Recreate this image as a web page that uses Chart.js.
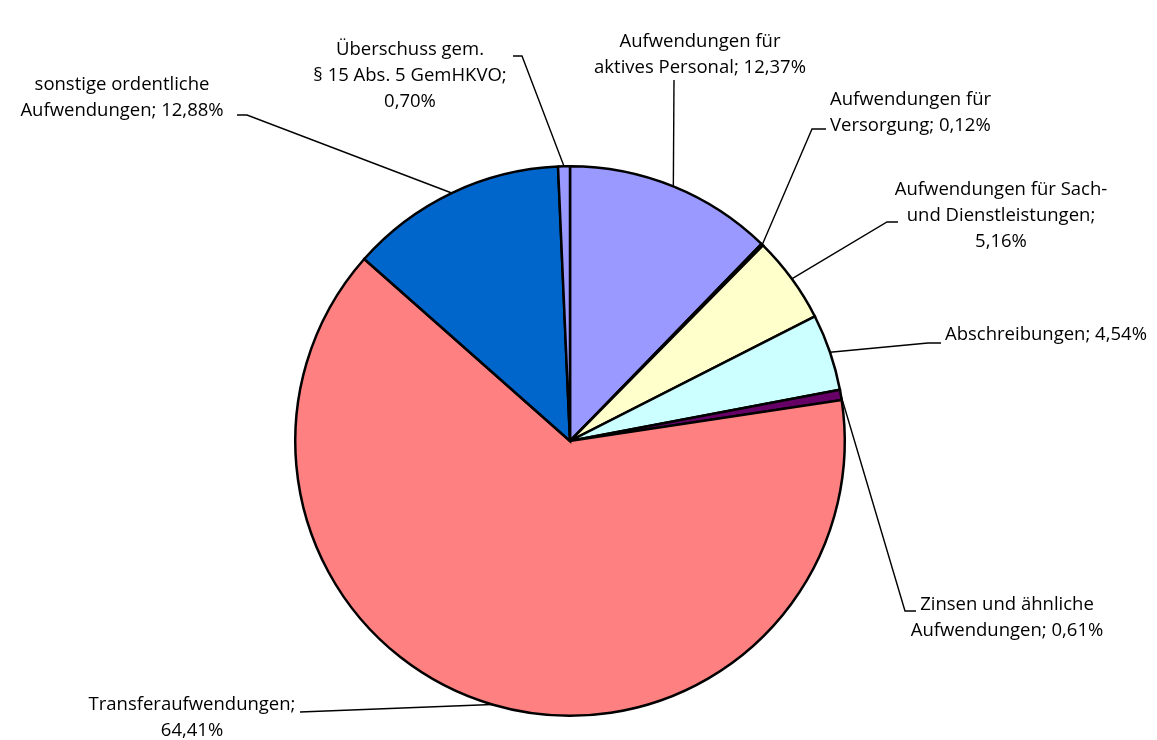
<!DOCTYPE html>
<html lang="de">
<head>
<meta charset="utf-8">
<title>Aufwendungen</title>
<script src="https://cdn.jsdelivr.net/npm/chart.js@4.4.1/dist/chart.umd.min.js"></script>
<style>
    html, body { margin: 0; padding: 0; background: #fff; }
    #wrap { width: 1157px; height: 740px; position: relative; }
</style>
</head>
<body>
<div id="wrap"><canvas id="pieChart" width="1157" height="740"></canvas></div>
<script>
const categories = [
    'Aufwendungen für aktives Personal',
    'Aufwendungen für Versorgung',
    'Aufwendungen für Sach- und Dienstleistungen',
    'Abschreibungen',
    'Zinsen und ähnliche Aufwendungen',
    'Transferaufwendungen',
    'sonstige ordentliche Aufwendungen',
    'Überschuss gem. § 15 Abs. 5 GemHKVO'
];
const shares = [12.37, 0.12, 5.16, 4.54, 0.61, 64.41, 12.88, 0.70];
const sliceColors = ['#9999FF', '#993366', '#FFFFCC', '#CCFFFF', '#660066', '#FF8080', '#0066CC', '#9999FF'];

// label text lines; the value is appended from shares
const labelLines = [
    ['Aufwendungen für', 'aktives Personal; {v}'],
    ['Aufwendungen für', 'Versorgung; {v}'],
    ['Aufwendungen für Sach-', 'und Dienstleistungen;', '{v}'],
    ['Abschreibungen; {v}'],
    ['Zinsen und ähnliche', 'Aufwendungen; {v}'],
    ['Transferaufwendungen;', '{v}'],
    ['sonstige ordentliche', 'Aufwendungen; {v}'],
    ['Überschuss gem.', '§ 15 Abs. 5 GemHKVO;', '{v}']
];

// label placement: text anchor (x, first line y, align) and leader elbow/tail
const labelLayout = [
    { x: 700, y: 42, align: 'center', elbow: [674, 80], tail: null },
    { x: 830, y: 100, align: 'left', elbow: [812, 129], tail: [826, 129] },
    { x: 1001, y: 190, align: 'center', elbow: [887, 222], tail: [898, 222] },
    { x: 945, y: 335, align: 'left', elbow: [928, 343], tail: [941, 343] },
    { x: 1007, y: 605, align: 'center', elbow: [905, 611], tail: [916, 611] },
    { x: 192, y: 705, align: 'center', elbow: [300, 712], tail: null },
    { x: 122, y: 85, align: 'center', elbow: [247, 115], tail: [237, 115] },
    { x: 410, y: 50, align: 'center', elbow: [522, 56], tail: [513, 56] }
];

const LINE_HEIGHT = 26;
const FONT = '18.5px "Open Sans", sans-serif';

function formatPct(v) {
    return v.toFixed(2).replace('.', ',') + '%';
}

const leaderLabels = {
    id: 'leaderLabels',
    afterDatasetsDraw(chart) {
        const ctx = chart.ctx;
        const arcs = chart.getDatasetMeta(0).data;
        ctx.save();
        ctx.strokeStyle = '#000';
        ctx.lineWidth = 1.4;
        ctx.fillStyle = '#000';
        ctx.font = FONT;
        ctx.textBaseline = 'middle';

        arcs.forEach((arc, i) => {
            const p = arc.getProps(['x', 'y', 'startAngle', 'endAngle', 'outerRadius'], true);
            const mid = (p.startAngle + p.endAngle) / 2;
            const ex = p.x + Math.cos(mid) * p.outerRadius;
            const ey = p.y + Math.sin(mid) * p.outerRadius;
            const lay = labelLayout[i];

            // leader line from slice edge to the label
            ctx.beginPath();
            ctx.moveTo(ex, ey);
            ctx.lineTo(lay.elbow[0], lay.elbow[1]);
            if (lay.tail) ctx.lineTo(lay.tail[0], lay.tail[1]);
            ctx.stroke();

            ctx.textAlign = lay.align;
            labelLines[i].forEach((line, k) => {
                const text = line.replace('{v}', formatPct(shares[i]));
                ctx.fillText(text, lay.x, lay.y + k * LINE_HEIGHT);
            });
        });
        ctx.restore();
    }
};

new Chart(document.getElementById('pieChart'), {
    type: 'pie',
    data: {
        labels: categories,
        datasets: [{
            data: shares,
            backgroundColor: sliceColors,
            borderColor: '#000',
            borderWidth: 2.5,
            borderJoinStyle: 'miter'
        }]
    },
    options: {
        responsive: false,
        animation: false,
        layout: {
            padding: { top: 165, bottom: 23, left: 294, right: 311 }
        },
        plugins: {
            legend: { display: false },
            tooltip: { enabled: false }
        }
    },
    plugins: [leaderLabels]
});
</script>
</body>
</html>
